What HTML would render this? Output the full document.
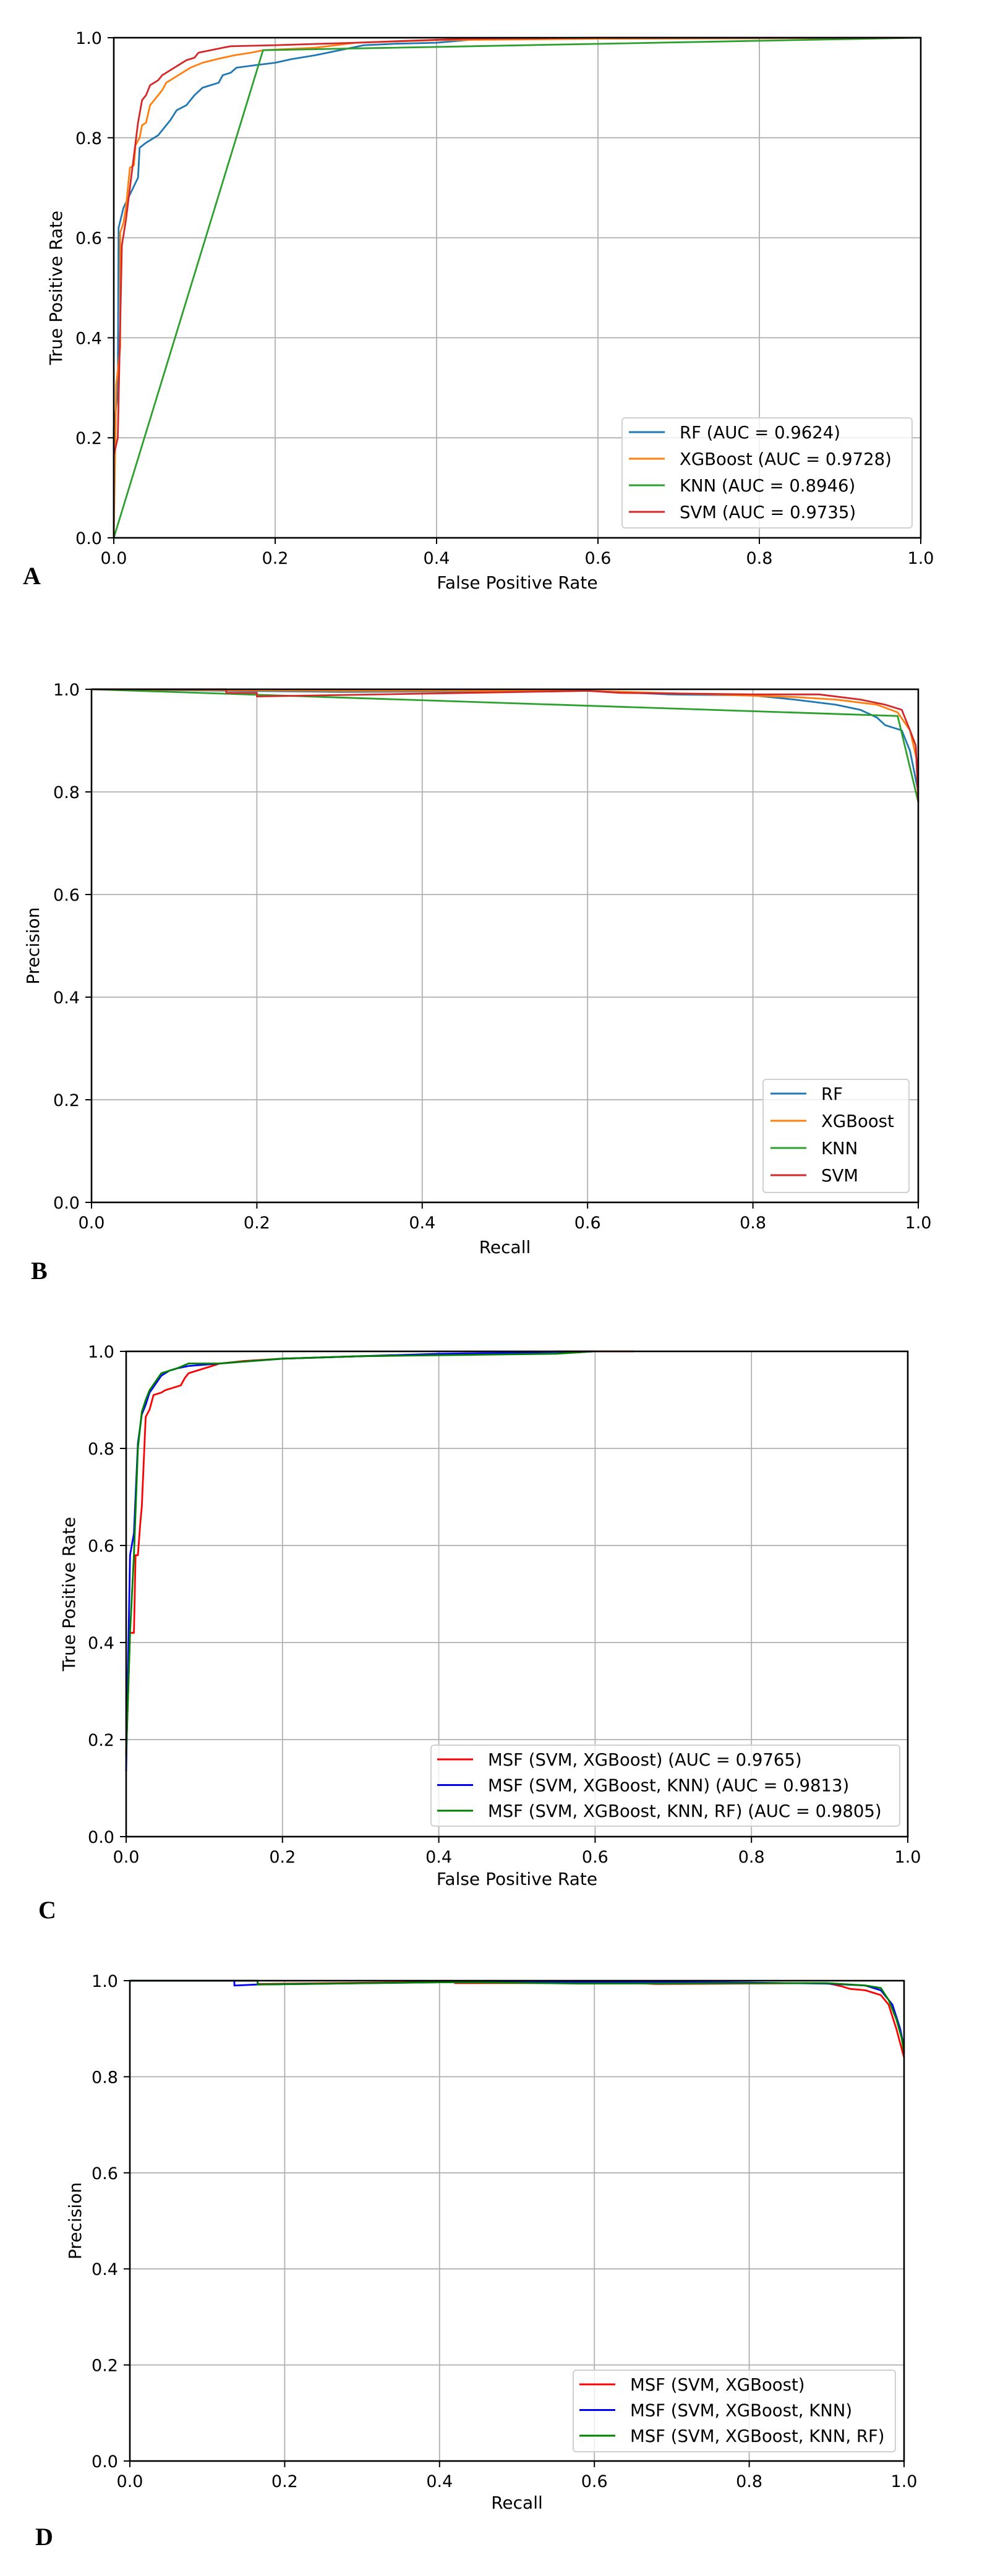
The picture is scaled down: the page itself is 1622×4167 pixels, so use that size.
<!DOCTYPE html>
<html><head><meta charset="utf-8"><style>
html,body{margin:0;padding:0;background:#fff;}
svg{display:block;}
text{font-family:"DejaVu Sans","Liberation Sans",sans-serif;}
.lbl{font-family:"Liberation Serif",serif;font-weight:bold;font-size:40px;}
</style></head><body>
<svg id="fig" xmlns="http://www.w3.org/2000/svg" width="1622" height="4167" viewBox="0 0 1622 4167"></svg>
<script>
const ticks = [0, 0.2, 0.4, 0.6, 0.8, 1.0];
const tickLabels = ["0.0", "0.2", "0.4", "0.6", "0.8", "1.0"];

// Panel A: ROC
const aNames = ["RF (AUC = 0.9624)", "XGBoost (AUC = 0.9728)", "KNN (AUC = 0.8946)", "SVM (AUC = 0.9735)"];
const aRF_x = [0,0,0.005,0.006,0.012,0.03,0.032,0.04,0.055,0.07,0.078,0.09,0.1,0.11,0.12,0.13,0.135,0.145,0.152,0.175,0.2,0.22,0.25,0.28,0.31,0.35,0.4,0.45,0.6,1];
const aRF_y = [0,0.22,0.29,0.62,0.66,0.72,0.78,0.79,0.805,0.835,0.855,0.865,0.885,0.9,0.905,0.91,0.925,0.93,0.94,0.945,0.95,0.957,0.965,0.975,0.985,0.988,0.99,0.997,0.998,1];
const aXGB_x = [0,0.003,0.008,0.008,0.012,0.015,0.02,0.025,0.027,0.032,0.035,0.04,0.045,0.05,0.06,0.065,0.075,0.085,0.095,0.11,0.13,0.15,0.17,0.185,0.25,0.3,0.4,0.6,0.98,1];
const aXGB_y = [0,0.305,0.38,0.61,0.63,0.66,0.74,0.745,0.785,0.8,0.825,0.83,0.865,0.875,0.895,0.91,0.92,0.93,0.94,0.95,0.958,0.965,0.97,0.975,0.98,0.99,0.995,0.998,1,1];
const aKNN_x = [0,0.185,1];
const aKNN_y = [0,0.975,1];
const aSVM_x = [0,0.005,0.01,0.015,0.02,0.03,0.035,0.04,0.045,0.055,0.06,0.07,0.08,0.09,0.1,0.105,0.12,0.135,0.145,0.2,0.3,0.35,0.44,0.6,0.98];
const aSVM_y = [0.165,0.2,0.585,0.635,0.7,0.83,0.875,0.885,0.905,0.915,0.925,0.935,0.945,0.955,0.96,0.97,0.975,0.98,0.983,0.985,0.99,0.993,0.998,1,1];

// Panel B: PR
const bNames = ["RF", "XGBoost", "KNN", "SVM"];
const bRF_x = [0,0.3,0.6,0.7,0.8,0.85,0.9,0.93,0.95,0.96,0.98,0.99,1];
const bRF_y = [1,0.995,0.997,0.99,0.988,0.98,0.97,0.96,0.945,0.93,0.92,0.88,0.8];
const bXGB_x = [0,0.3,0.6,0.75,0.85,0.9,0.95,0.975,0.99,1];
const bXGB_y = [1,0.997,0.997,0.99,0.985,0.98,0.97,0.955,0.92,0.85];
const bKNN_x = [0,0.975,1];
const bKNN_y = [1,0.948,0.78];
const bSVM_x = [0,0.163,0.163,0.2,0.2,0.6,0.64,0.8,0.88,0.93,0.96,0.98,0.99,0.997,1];
const bSVM_y = [1,1,0.993,0.993,0.986,0.997,0.993,0.99,0.99,0.98,0.97,0.96,0.92,0.89,0.78];

// Panel C: ROC fusions
const cNames = ["MSF (SVM, XGBoost) (AUC = 0.9765)", "MSF (SVM, XGBoost, KNN) (AUC = 0.9813)", "MSF (SVM, XGBoost, KNN, RF) (AUC = 0.9805)"];
const cR_x = [0,0.005,0.01,0.012,0.015,0.018,0.02,0.025,0.03,0.035,0.045,0.05,0.06,0.07,0.075,0.08,0.09,0.1,0.11,0.12,0.15,0.2,0.3,0.5,0.55,0.65];
const cR_y = [0.17,0.42,0.42,0.58,0.58,0.645,0.68,0.865,0.88,0.91,0.915,0.92,0.925,0.93,0.945,0.955,0.96,0.965,0.97,0.975,0.98,0.985,0.99,0.995,1,1];
const cB_x = [0,0.005,0.01,0.015,0.02,0.025,0.03,0.045,0.055,0.065,0.08,0.12,0.2,0.4,0.6];
const cB_y = [0.135,0.58,0.625,0.81,0.87,0.89,0.915,0.95,0.96,0.965,0.97,0.975,0.985,0.995,1];
const cG_x = [0,0.005,0.01,0.015,0.02,0.025,0.03,0.045,0.055,0.065,0.08,0.12,0.2,0.3,0.55,0.6];
const cG_y = [0.165,0.42,0.58,0.8,0.875,0.9,0.92,0.955,0.96,0.965,0.975,0.975,0.985,0.99,0.995,1];

// Panel D: PR fusions
const dNames = ["MSF (SVM, XGBoost)", "MSF (SVM, XGBoost, KNN)", "MSF (SVM, XGBoost, KNN, RF)"];
const dR_x = [0,0.165,0.165,0.42,0.42,0.65,0.68,0.9,0.92,0.93,0.95,0.97,0.98,0.99,0.995,1];
const dR_y = [1,1,0.993,0.998,0.995,0.995,0.993,0.995,0.988,0.983,0.98,0.97,0.95,0.9,0.87,0.84];
const dB_x = [0,0.135,0.135,0.165,0.42,0.62,0.8,0.9,0.95,0.97,0.985,0.995,1];
const dB_y = [1,1,0.99,0.992,0.997,0.998,0.996,0.994,0.99,0.98,0.95,0.9,0.86];
const dG_x = [0,0.165,0.165,0.42,0.58,0.9,0.95,0.97,0.98,0.99,0.997,1];
const dG_y = [1,1,0.992,0.997,0.994,0.995,0.99,0.985,0.96,0.92,0.88,0.85];

const NS = "http://www.w3.org/2000/svg";
const fig = document.getElementById("fig");
function mk(tag, attrs, parent){
  const e = document.createElementNS(NS, tag);
  for (const k in attrs) e.setAttribute(k, attrs[k]);
  (parent||fig).appendChild(e);
  return e;
}

function panel(cfg){
  const g = mk("g", {});
  
  
  const L=cfg.L, R=cfg.R, T=cfg.T, B=cfg.B;
  const sx = v => L + v*(R-L);
  const sy = v => B - v*(B-T);
  ticks.forEach((t,i)=>{
    const gx = mk("line",{x1:sx(t),x2:sx(t),y1:T,y2:B,stroke:"#b0b0b0","stroke-width":1.8},g);
    
    
    const gy = mk("line",{x1:L,x2:R,y1:sy(t),y2:sy(t),stroke:"#b0b0b0","stroke-width":1.8},g);
    
    
  });
  cfg.series.forEach((s,i)=>{
    const pts = s.x.map((xv,j)=>sx(xv).toFixed(1)+","+sy(s.y[j]).toFixed(1)).join(" ");
    const p = mk("polyline",{points:pts,fill:"none",stroke:s.color,"stroke-width":2.8,"stroke-linejoin":"round"},g);
    
    
  });
  const fr = mk("rect",{x:L,y:T,width:R-L,height:B-T,fill:"none",stroke:"#000","stroke-width":2.6},g);
  
  
  ticks.forEach((t,i)=>{
    mk("line",{x1:sx(t),x2:sx(t),y1:B,y2:B+10,stroke:"#000","stroke-width":2},g);
    const tx = mk("text",{x:sx(t),y:B+42,"font-size":27,"text-anchor":"middle",fill:"#000"},g);
    tx.textContent = tickLabels[i];
    
    
    mk("line",{x1:L-10,x2:L,y1:sy(t),y2:sy(t),stroke:"#000","stroke-width":2},g);
    const ty = mk("text",{x:L-19,y:sy(t)+10,"font-size":27,"text-anchor":"end",fill:"#000"},g);
    ty.textContent = tickLabels[i];
    
    
  });
  const xt = mk("text",{x:(L+R)/2,y:cfg.xlabY,"font-size":28,"text-anchor":"middle",fill:"#000"},g);
  xt.textContent = cfg.xlabel;
  
  
  const yt = mk("text",{x:0,y:0,"font-size":28,"text-anchor":"middle",fill:"#000",transform:`translate(${cfg.ylabX},${(T+B)/2}) rotate(-90)`},g);
  yt.textContent = cfg.ylabel;
  
  
  const lg = cfg.leg;
  const lb = mk("rect",{x:lg.x,y:lg.y,width:lg.w,height:lg.h,rx:5,fill:"#fff","fill-opacity":0.8,stroke:"#d0d0d0","stroke-width":2},g);
  
  
  cfg.series.forEach((s,i)=>{
    const yy = lg.y0 + i*lg.dy;
    const ll = mk("line",{x1:lg.hx,x2:lg.hx+58,y1:yy,y2:yy,stroke:s.color,"stroke-width":3},g);
    
    
    const lt = mk("text",{x:lg.hx+82,y:yy+10,"font-size":27.5,fill:"#000",textLength:lg.tl?lg.tl[i]:null},g);
    if(!lg.tl) lt.removeAttribute("textLength");
    lt.textContent = s.name;
    
    
  });
  const pl = mk("text",{x:cfg.lx,y:cfg.ly,"class":"lbl",fill:"#000"},g);
  pl.textContent = cfg.letter;
  
  
}

const tab = ["#1f77b4","#ff7f0e","#2ca02c","#d62728"];
panel({id:"a",L:184,R:1489,T:61,B:870,xlabel:"False Positive Rate",ylabel:"True Positive Rate",xlabY:952,ylabX:100,
  leg:{x:1006,y:676,w:469,h:178,y0:699,dy:43,hx:1017},letter:"A",lx:37,ly:945,
  series:[{key:"rf",name:aNames[0],color:tab[0],x:aRF_x,y:aRF_y},{key:"xgboost",name:aNames[1],color:tab[1],x:aXGB_x,y:aXGB_y},
          {key:"knn",name:aNames[2],color:tab[2],x:aKNN_x,y:aKNN_y},{key:"svm",name:aNames[3],color:tab[3],x:aSVM_x,y:aSVM_y}]});
panel({id:"b",L:148,R:1485,T:1115,B:1945,xlabel:"Recall",ylabel:"Precision",xlabY:2027,ylabX:63,
  leg:{x:1234,y:1746,w:236,h:183,y0:1769,dy:44,hx:1246},letter:"B",lx:50,ly:2069,
  series:[{key:"rf",name:bNames[0],color:tab[0],x:bRF_x,y:bRF_y},{key:"xgboost",name:bNames[1],color:tab[1],x:bXGB_x,y:bXGB_y},
          {key:"knn",name:bNames[2],color:tab[2],x:bKNN_x,y:bKNN_y},{key:"svm",name:bNames[3],color:tab[3],x:bSVM_x,y:bSVM_y}]});
panel({id:"c",L:204,R:1468,T:2186,B:2971,xlabel:"False Positive Rate",ylabel:"True Positive Rate",xlabY:3049,ylabX:121,
  leg:{x:697,y:2823,w:758,h:131,y0:2846,dy:41.5,hx:707},letter:"C",lx:62,ly:3103,
  series:[{key:"svm-xgb",name:cNames[0],color:"#ff0000",x:cR_x,y:cR_y},{key:"svm-xgb-knn",name:cNames[1],color:"#0000ff",x:cB_x,y:cB_y},
          {key:"svm-xgb-knn-rf",name:cNames[2],color:"#008000",x:cG_x,y:cG_y}]});
panel({id:"d",L:210,R:1462,T:3204,B:3981,xlabel:"Recall",ylabel:"Precision",xlabY:4058,ylabX:131,
  leg:{x:927,y:3834,w:521,h:132,y0:3857,dy:41.5,hx:937},letter:"D",lx:57,ly:4117,
  series:[{key:"svm-xgb",name:dNames[0],color:"#ff0000",x:dR_x,y:dR_y},{key:"svm-xgb-knn",name:dNames[1],color:"#0000ff",x:dB_x,y:dB_y},
          {key:"svm-xgb-knn-rf",name:dNames[2],color:"#008000",x:dG_x,y:dG_y}]});
</script>
</body></html>
